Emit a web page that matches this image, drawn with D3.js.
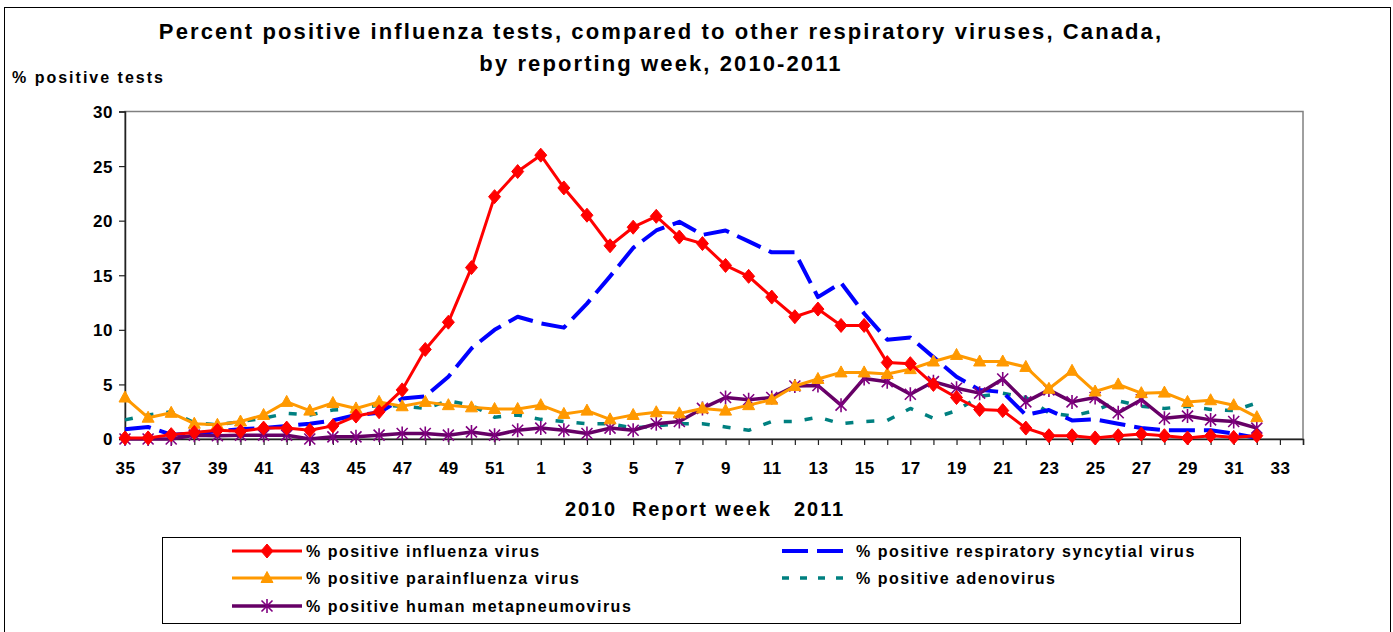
<!DOCTYPE html>
<html>
<head>
<meta charset="utf-8">
<script src="https://cdn.jsdelivr.net/npm/d3@7"></script>
<style>
  html, body { margin: 0; padding: 0; background: #fff; }
  svg text { font-family: "Liberation Sans", Arial, sans-serif; font-weight: bold; fill: #000; }
</style>
</head>
<body>
<div id="chart"></div>
<script>
// week categories on the axis (2010 wk 35 .. 2011 wk 34)
const weeks = d3.range(35, 53).concat(d3.range(1, 35)).map(String);

// values, week 35 (2010) .. week 32 (2011)
const influenza = [0.1,0.1,0.4,0.6,0.8,0.7,1.0,1.0,0.8,1.2,2.1,2.5,4.5,8.2,10.7,15.7,22.2,24.5,
  26.0,23.0,20.5,17.7,19.4,20.4,18.5,17.9,15.9,14.9,13.0,11.2,11.9,10.4,10.4,7.0,6.9,5.0,
  3.8,2.7,2.6,1.0,0.3,0.3,0.1,0.3,0.45,0.3,0.1,0.3,0.15,0.3];
const rsv = [0.9,1.1,0.4,0.5,0.7,0.9,1.0,1.2,1.4,1.7,2.2,2.4,3.7,3.9,5.7,8.3,10.0,11.2,
  10.6,10.2,12.4,14.9,17.5,19.1,19.9,18.7,19.1,18.1,17.1,17.1,13.0,14.3,11.5,9.1,9.3,7.5,
  5.7,4.5,4.3,2.2,2.65,1.7,1.8,1.4,1.0,0.8,0.8,0.8,0.5,0.1];
const parainfluenza = [3.8,1.95,2.4,1.4,1.3,1.6,2.2,3.4,2.6,3.3,2.8,3.4,3.0,3.4,3.1,2.9,2.75,2.75,
  3.1,2.3,2.6,1.8,2.2,2.45,2.35,2.8,2.6,3.1,3.6,4.85,5.5,6.1,6.1,5.95,6.4,7.1,
  7.7,7.1,7.1,6.6,4.6,6.25,4.35,5.0,4.2,4.25,3.4,3.55,3.1,2.0];
const adenovirus = [1.75,2.2,2.5,1.5,1.3,1.6,1.9,2.35,2.2,2.65,2.8,3.1,3.0,2.8,3.5,3.1,2.0,2.2,
  1.8,1.6,1.4,1.4,1.0,1.2,1.4,1.4,1.1,0.8,1.6,1.6,2.0,1.4,1.6,1.7,2.8,1.9,
  2.6,3.9,4.2,3.8,2.4,2.1,2.6,3.5,3.0,2.8,3.0,2.7,2.6,3.3];
const hmpv = [0,0,0,0.35,0.3,0.35,0.35,0.35,0,0.2,0.2,0.35,0.5,0.5,0.35,0.65,0.35,0.8,
  1.0,0.8,0.5,1.0,0.8,1.4,1.6,2.8,3.8,3.6,3.8,4.85,4.9,3.1,5.55,5.25,4.1,5.25,
  4.65,4.2,5.5,3.4,4.5,3.4,3.8,2.4,3.6,1.9,2.1,1.75,1.6,1.0];

const yTicks = [0, 5, 10, 15, 20, 25, 30];

const series = [
  { name: '% positive influenza virus', values: influenza, color: '#FF0000', width: 3, dash: null, marker: 'diamond', mcolor: '#FF0000' },
  { name: '% positive respiratory syncytial virus', values: rsv, color: '#0000FF', width: 4, dash: '26,9', marker: null },
  { name: '% positive parainfluenza virus', values: parainfluenza, color: '#FF9900', width: 3, dash: null, marker: 'triangle', mcolor: '#FF9900' },
  { name: '% positive adenovirus', values: adenovirus, color: '#008080', width: 3.5, dash: '8,13', marker: null },
  { name: '% positive human metapneumovirus', values: hmpv, color: '#660066', width: 3.5, dash: null, marker: 'star', mcolor: '#800080' }
];

const W = 1393, H = 632;
const svg = d3.select('#chart').append('svg').attr('width', W).attr('height', H);

// outer frame
svg.append('rect').attr('x', 4.5).attr('y', 7.5).attr('width', 1386).attr('height', 640)
  .attr('fill', 'none').attr('stroke', '#000').attr('stroke-width', 1);

const x = d3.scalePoint().domain(weeks).range([125, 1303]);
const y = d3.scaleLinear().domain([0, 30]).range([439, 111.5]);

// plot area border (grey top/right)
svg.append('rect').attr('x', 125).attr('y', y(30)).attr('width', 1303 - 125).attr('height', y(0) - y(30))
  .attr('fill', 'none').attr('stroke', '#808080').attr('stroke-width', 1.5);

// axes
const yAxis = svg.append('g').attr('transform', 'translate(125,0)')
  .call(d3.axisLeft(y).tickValues(yTicks).tickSize(6).tickPadding(6));
const xAxis = svg.append('g').attr('transform', `translate(0,${y(0)})`)
  .call(d3.axisBottom(x).tickSize(6).tickPadding(17)
    .tickFormat((d, i) => i % 2 === 0 ? d : ''));
[yAxis, xAxis].forEach(g => {
  g.select('.domain').attr('stroke', '#222').attr('stroke-width', 1.5);
  g.selectAll('.tick line').attr('stroke', '#222').attr('stroke-width', 1.2);
  g.selectAll('text').style('font-size', '17px').style('font-weight', 'bold')
    .attr('fill', '#000').style('letter-spacing', '0.5px');
});
yAxis.selectAll('text').attr('dy', '0.35em');

// markers
function markerPath(type) {
  if (type === 'diamond') return 'M0,-7L6,0L0,7L-6,0Z';
  if (type === 'triangle') return 'M0,-6.5L6,4.5L-6,4.5Z';
  if (type === 'star') return 'M0,-7L0,7M-5.5,-5.5L5.5,5.5M-5.5,5.5L5.5,-5.5';
  return '';
}

const line = d3.line().x((d, i) => x(weeks[i])).y(d => y(d));

const drawOrder = [3, 1, 4, 2, 0];
drawOrder.forEach(k => {
  const s = series[k];
  const g = svg.append('g');
  g.append('path').datum(s.values)
    .attr('d', line)
    .attr('fill', 'none')
    .attr('stroke', s.color)
    .attr('stroke-width', s.width)
    .attr('stroke-dasharray', s.dash)
    .attr('stroke-linejoin', 'round');
  if (s.marker) {
    g.selectAll('path.m').data(s.values).enter().append('path')
      .attr('class', 'm')
      .attr('transform', (d, i) => `translate(${x(weeks[i])},${y(d)})`)
      .attr('d', markerPath(s.marker))
      .attr('fill', s.marker === 'star' ? 'none' : s.mcolor)
      .attr('stroke', s.mcolor)
      .attr('stroke-width', s.marker === 'star' ? 1.6 : 1);
  }
});

// titles
svg.append('text').attr('x', 661).attr('y', 39).attr('text-anchor', 'middle')
  .style('font-size', '22px').style('letter-spacing', '2.1px')
  .text('Percent positive influenza tests, compared to other respiratory viruses, Canada,');
svg.append('text').attr('x', 661).attr('y', 71).attr('text-anchor', 'middle')
  .style('font-size', '22px').style('letter-spacing', '2.1px')
  .text('by reporting week, 2010-2011');
svg.append('text').attr('x', 12).attr('y', 83)
  .style('font-size', '16px').style('letter-spacing', '2px')
  .text('% positive tests');
svg.append('text').attr('x', 705).attr('y', 516).attr('text-anchor', 'middle')
  .style('font-size', '20px').style('letter-spacing', '1.9px').attr('xml:space', 'preserve')
  .text('2010  Report week   2011');

// legend
const legend = svg.append('g');
legend.append('rect').attr('x', 162.5).attr('y', 537.5).attr('width', 1078).attr('height', 86)
  .attr('fill', '#fff').attr('stroke', '#000').attr('stroke-width', 1);
const legPos = [[232, 551], [782, 551], [232, 578], [782, 578], [232, 606]];
series.forEach((s, i) => {
  const [lx, ly] = legPos[i];
  const g = legend.append('g').attr('transform', `translate(${lx},${ly})`);
  g.append('line').attr('x1', 0).attr('x2', 70).attr('y1', 0).attr('y2', 0)
    .attr('stroke', s.color).attr('stroke-width', s.width)
    .attr('stroke-dasharray', s.dash ? (i === 1 ? '26,9' : '7,11') : null);
  if (s.marker) {
    g.append('path').attr('transform', 'translate(35,0)').attr('d', markerPath(s.marker))
      .attr('fill', s.marker === 'star' ? 'none' : s.mcolor)
      .attr('stroke', s.mcolor).attr('stroke-width', s.marker === 'star' ? 1.6 : 1);
  }
  g.append('text').attr('x', 74).attr('y', 0).attr('dy', '0.35em')
    .style('font-size', '16px').style('letter-spacing', '1.5px')
    .text(s.name);
});
</script>
</body>
</html>
